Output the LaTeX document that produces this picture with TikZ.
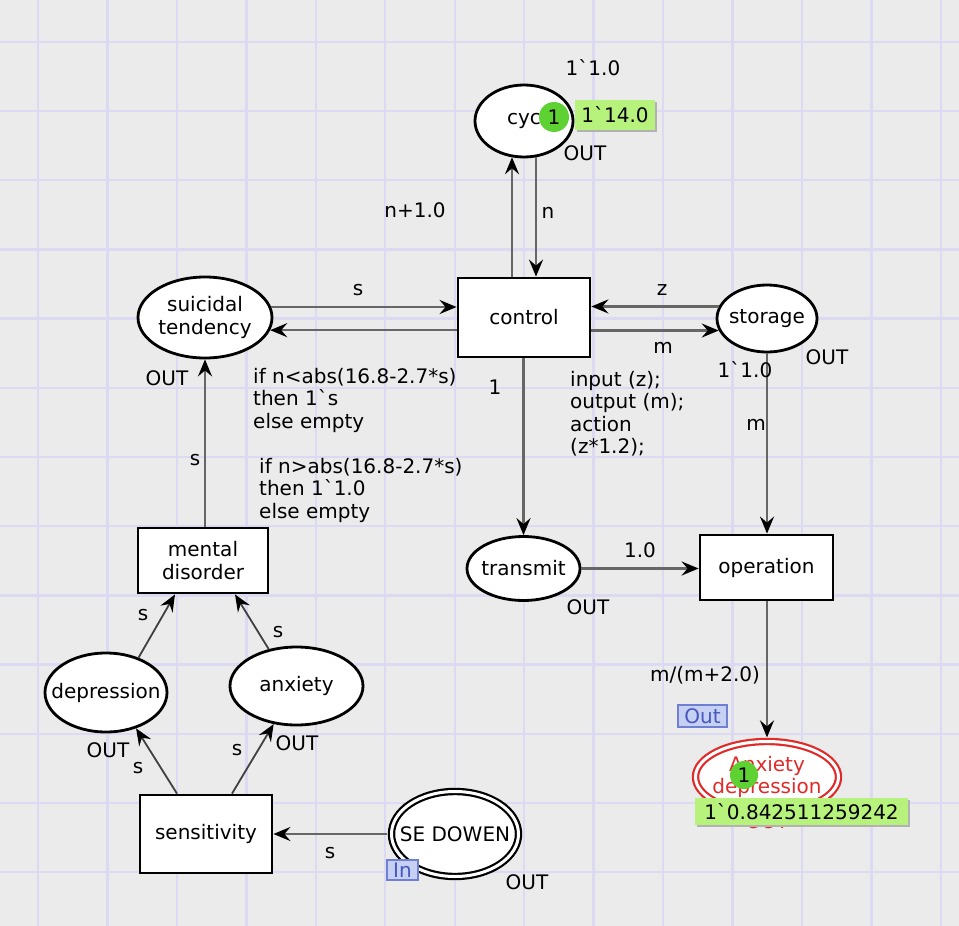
\documentclass[tikz,border=0pt]{standalone}
\usepackage{fontspec}
\setmainfont{DejaVu Sans}[Ligatures=TeXOff]
\usetikzlibrary{arrows.meta,shapes.geometric}
\definecolor{canvas}{HTML}{EBEBEB}
\definecolor{gridc}{HTML}{DCDAF2}
\definecolor{arcgray}{HTML}{666666}
\definecolor{tokfill}{HTML}{B6F27C}
\definecolor{dotfill}{HTML}{5ED232}
\definecolor{tagline}{HTML}{6F80D2}
\definecolor{tagfill}{HTML}{C6D0F2}
\definecolor{tagtext}{HTML}{4658BE}
\definecolor{portred}{HTML}{E02A2A}
\newcommand{\bq}{\char96\relax}
\tikzset{
  every node/.style={font=\fontsize{20}{22.5}\selectfont},
  plabel/.style={align=center, inner sep=0pt},
  place/.style={ellipse, draw=black, line width=2.8pt, fill=white, inner sep=0pt},
  ioplace/.style={ellipse, draw=#1, line width=2.2pt, double=white, double distance=3pt,
                  fill=white, inner sep=0pt},
  trans/.style={rectangle, draw=black, line width=2.8pt, fill=white, inner sep=0pt, align=center},
  arc/.style={draw=arcgray, line width=2.5pt,
              -{Stealth[length=17pt,width=14pt,inset=6pt,color=black]}},
  lbl/.style={inner sep=0pt},
  code/.style={inner sep=0pt, align=left, anchor=west},
  tokdot/.style={circle, fill=dotfill, minimum size=30pt, inner sep=0pt},
  tokbox/.style={rectangle, fill=tokfill, inner sep=0pt},
  tag/.style={rectangle, draw=tagline, fill=tagfill, line width=1.6pt, text=tagtext, inner sep=0pt}
}
\begin{document}
\begin{tikzpicture}[x=1pt,y=-1pt]
% canvas and grid
\fill[canvas] (0,0) rectangle (959,926);
\useasboundingbox (0,0) rectangle (959,926);
\foreach \i in {0,...,13} \draw[gridc, line width=2.4pt] ({38+69.45*\i},0) -- ({38+69.45*\i},926);
\foreach \j in {0,...,12} \draw[gridc, line width=2.4pt] (0,{41.7+69.2*\j}) -- (959,{41.7+69.2*\j});

% places and transitions
\node[place, minimum width=98pt, minimum height=72pt, label={[plabel]center:cyc}] (cyc) at (524,121) {};
\node[trans, minimum width=132pt, minimum height=79pt] (control) at (524,317.5) {control};
\node[place, minimum width=134pt, minimum height=81pt, label={[plabel]center:suicidal\\tendency}] (suic) at (205,317.5) {};
\node[place, minimum width=100pt, minimum height=67pt, label={[plabel]center:storage}] (stor) at (767,318.5) {};
\node[trans, minimum width=130pt, minimum height=65pt] (mental) at (203,560.5) {mental\\disorder};
\node[place, minimum width=113pt, minimum height=64pt, label={[plabel]center:transmit}] (trans) at (523.5,568.5) {};
\node[trans, minimum width=133pt, minimum height=65pt] (oper) at (766.5,567.5) {operation};
\node[place, minimum width=122pt, minimum height=79pt, label={[plabel]center:depression}] (depr) at (106,692.5) {};
\node[place, minimum width=133pt, minimum height=78pt, label={[plabel]center:anxiety}] (anx) at (296.5,686) {};
\node[trans, minimum width=132pt, minimum height=78pt] (sens) at (206,834) {sensitivity};
\node[ioplace=black, minimum width=127pt, minimum height=85pt, label={[plabel]center:SE DOWEN}] (sedown) at (455,834) {};
\node[ioplace=portred, minimum width=143pt, minimum height=71pt,
      label={[plabel, text=portred]center:Anxiety\\depression}] (anxdep) at (767,777) {};

% arcs
\coordinate (ctlL) at ([xshift=-12pt]control.north);
\coordinate (ctlR) at ([xshift=12pt]control.north);
\draw[arc] (ctlL) -- (ctlL |- cyc.-109);
\draw[arc] (ctlR |- cyc.-71) -- (ctlR);
\draw[arc] (suic.9) -- (control.west |- suic.9);
\draw[arc] (control.west |- suic.-11) -- (suic.-11);
\draw[arc] (stor.166) -- (control.east |- stor.166);
\draw[arc] (control.east |- stor.194) -- (stor.194);
\draw[arc] (control.south -| trans.north) -- (trans.north);
\draw[arc] (stor.south) -- (oper.north -| stor.south);
\draw[arc] (trans.east) -- (oper.west |- trans.east);
\draw[arc, shorten >=3pt] (oper.south -| anxdep.north) -- (anxdep.north);
\draw[arc] (mental.north -| suic.south) -- (suic.south);
\draw[arc, line width=1.8pt, draw=black!75] (depr.47) -- ([xshift=-28pt]mental.south);
\draw[arc, line width=1.8pt, draw=black!75] (anx.127) -- ([xshift=32pt]mental.south);
\draw[arc, line width=1.8pt, draw=black!75] ([xshift=-29pt]sens.north) -- (depr.-50);
\draw[arc, line width=1.8pt, draw=black!75] ([xshift=26pt]sens.north) -- (anx.-121);
\draw[arc, shorten <=3pt] (sedown.west) -- (sens.east |- sedown.west);

% arc inscriptions and place annotations
\node[lbl] (l1) at (593,68) {1\bq 1.0};
\node[lbl] (l2) at (585,153) {OUT};
\node[lbl] (l3) at (415,210) {n+1.0};
\node[lbl] (l4) at (548,213) {n};
\node[lbl] (l5) at (358,290) {s};
\node[lbl] (l6) at (662,290) {z};
\node[lbl] (l7) at (663,348) {m};
\node[lbl] (l8) at (167,378) {OUT};
\node[lbl] (l9) at (827,357) {OUT};
\node[lbl] (l10) at (745,370) {1\bq 1.0};
\node[lbl] (l11) at (495,387) {1};
\node[lbl] (l12) at (756,425) {m};
\node[lbl] (l13) at (195,460) {s};
\node[lbl] (l14) at (640,550) {1.0};
\node[lbl] (l15) at (588,607) {OUT};
\node[lbl] (l16) at (143,615) {s};
\node[lbl] (l17) at (278,632) {s};
\node[lbl] (l18) at (705,675) {m/(m+2.0)};
\node[lbl] (l19) at (108,750) {OUT};
\node[lbl] (l20) at (138,768) {s};
\node[lbl] (l21) at (237,750) {s};
\node[lbl] (l22) at (297,743) {OUT};
\node[lbl] (l23) at (330,853) {s};
\node[lbl] (l24) at (527,882) {OUT};
\node[lbl, text=portred] (l25) at (767,821) {OUT};
\node[code] (g1) at (253,400) {if n<abs(16.8-2.7*s)\\then 1\bq s\\else empty};
\node[code] (g2) at (259,490) {if n>abs(16.8-2.7*s)\\then 1\bq 1.0\\else empty};
\node[code] (g3) at (570,413.5) {input (z);\\output (m);\\action\\(z*1.2);};

% port tags
\node[tag, minimum width=49pt, minimum height=22pt] (tout) at (702.5,716) {Out};
\node[tag, minimum width=31pt, minimum height=20pt] (tin) at (402.5,870) {In};

% tokens
\fill[black!30] (577,102) rectangle (657,132);
\node[tokbox, minimum width=80pt, minimum height=30pt] (cyctok) at (615,115) {1\bq 14.0};
\node[tokdot] (cycdot) at (554,117) {1};
\fill[black!30] (697,800) rectangle (910,827);
\node[tokbox, minimum width=213pt, minimum height=27pt] (adtok) at (801.5,811.5) {1\bq 0.842511259242};
\node[tokdot, minimum size=28pt] (addot) at (744,775) {1};
\end{tikzpicture}
\end{document}
